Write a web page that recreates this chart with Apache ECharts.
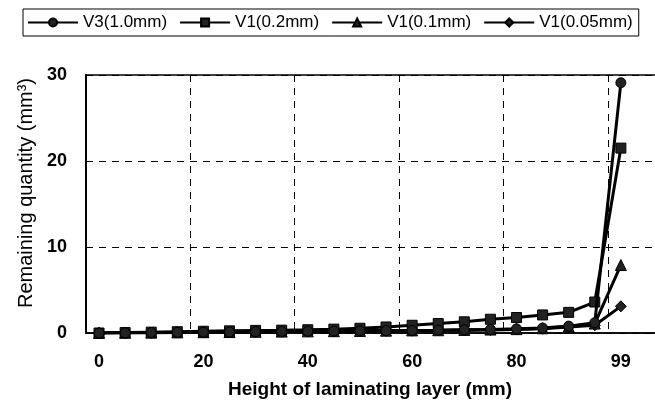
<!DOCTYPE html>
<html><head><meta charset="utf-8">
<script src="https://cdn.jsdelivr.net/npm/echarts@6/dist/echarts.min.js"></script>
<style>html,body{margin:0;padding:0;background:#fff}#c{width:655px;height:403px}</style>
</head><body><div id="c"></div>
<script>
// Categories: height of laminating layer (mm)
const categories = ['0','5','10','15','20','25','30','35','40','45','50','55','60','65','70','75','80','85','90','95','99'];
const seriesNames = ['V3(1.0mm)','V1(0.2mm)','V1(0.1mm)','V1(0.05mm)'];
// Remaining quantity (mm^3)
const v3_10  = [0,0.02,0.05,0.08,0.1,0.12,0.15,0.18,0.2,0.22,0.25,0.28,0.3,0.33,0.38,0.42,0.48,0.58,0.8,1.2,29.1];
const v1_02  = [0,0.05,0.1,0.15,0.2,0.25,0.3,0.33,0.38,0.45,0.55,0.7,0.9,1.1,1.3,1.6,1.8,2.1,2.4,3.6,21.5];
const v1_01  = [0,0.02,0.04,0.07,0.09,0.11,0.14,0.16,0.19,0.21,0.24,0.27,0.3,0.32,0.36,0.4,0.45,0.55,0.75,1.1,7.9];
const v1_005 = [0,0.02,0.04,0.06,0.08,0.1,0.12,0.15,0.17,0.2,0.22,0.25,0.27,0.3,0.33,0.36,0.42,0.5,0.7,0.9,3.1];
const yMin = 0, yMax = 30, yStep = 10;

// one empty padding band so the plot area runs past the right edge (as in the cropped original)
const axisCategories = categories.concat(['']);
const FONT = '"Liberation Sans", Arial, sans-serif';
const symbols = ['circle','rect','triangle','diamond'];
const sizes = [10,10,11,11];
const dataSets = [v3_10, v1_02, v1_01, v1_005];

const chart = echarts.init(document.getElementById('c'), null, {renderer:'canvas'});
chart.setOption({
  animation:false,
  backgroundColor:'#fff',
  textStyle:{fontFamily:FONT},
  legend:{
    left:23, top:9,
    padding:[5,6,5,4],
    itemGap:12, itemWidth:50, itemHeight:10,
    borderColor:'#000', borderWidth:1,
    textStyle:{fontSize:17, color:'#000', fontFamily:FONT},
    data:seriesNames
  },
  grid:{
    left:86, top:75, bottom:70, width:574,
    outerBoundsMode:'none', containLabel:false,
    show:true, borderColor:'#000', borderWidth:1.5, backgroundColor:'transparent'
  },
  xAxis:{
    type:'category', data:axisCategories, boundaryGap:true,
    axisLine:{lineStyle:{color:'#000', width:1.5}},
    axisTick:{show:false},
    axisLabel:{interval:3, margin:20, fontSize:18, fontWeight:'bold', color:'#000', fontFamily:FONT},
    splitLine:{show:true, interval:3, lineStyle:{color:'#000', width:1, type:[7,6]}},
    name:'Height of laminating layer (mm)', nameLocation:'middle', nameGap:47,
    nameTextStyle:{fontSize:19, fontWeight:'bold', color:'#000', fontFamily:FONT, padding:[0,6,0,0]}
  },
  yAxis:{
    type:'value', min:yMin, max:yMax, interval:yStep,
    axisLine:{show:true, lineStyle:{color:'#000', width:2}},
    axisTick:{show:false},
    axisLabel:{margin:19, fontSize:18, fontWeight:'bold', color:'#000', fontFamily:FONT},
    splitLine:{show:true, lineStyle:{color:'#000', width:1, type:[7,6]}},
    name:'Remaining quantity (mm³)', nameLocation:'middle', nameGap:50,
    nameTextStyle:{fontSize:20, color:'#000', fontFamily:FONT, padding:[0,0,0,22]}
  },
  series: seriesNames.map((n,i)=>({
    name:n, type:'line', data:dataSets[i],
    symbol:symbols[i], symbolSize:sizes[i], showAllSymbol:true,
    lineStyle:{color:'#000', width:3},
    itemStyle:{color:'#222', borderColor:'#000', borderWidth:1},
    z: 10-i
  }))
});
</script></body></html>
